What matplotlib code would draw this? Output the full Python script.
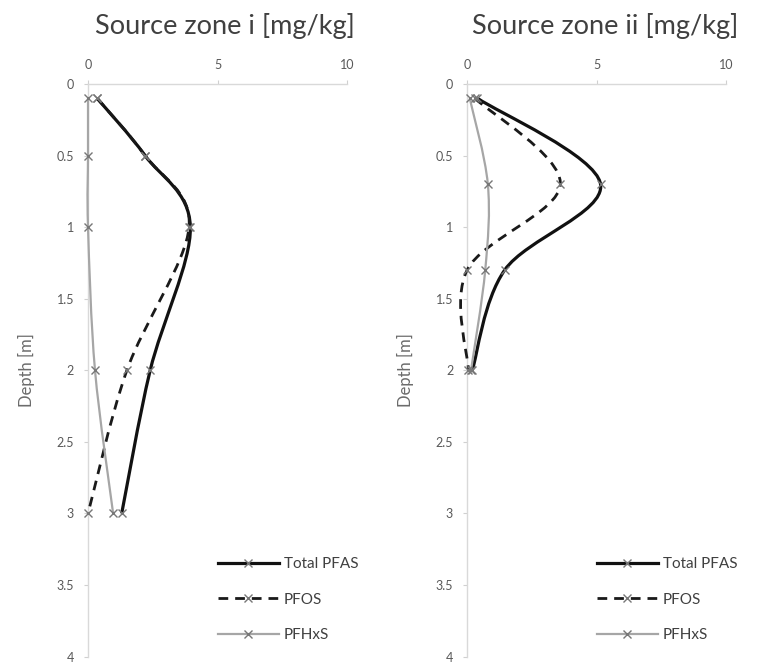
import numpy as np
import matplotlib as mpl
mpl.use('Agg')
import matplotlib.pyplot as plt
from matplotlib.path import Path
from matplotlib.patches import PathPatch
from matplotlib.lines import Line2D

plt.rcParams['font.family'] = ['Lato', 'DejaVu Sans']

#Data (concentration in mg/kg, depth in m)
depth_i = [0.1, 0.5, 1.0, 2.0, 3.0]
total_i = [0.35, 2.2, 3.95, 2.4, 1.3]
pfos_i = [0.35, 2.2, 3.9, 1.5, 0.0]
pfhxs_i = [0.0, 0.0, 0.0, 0.27, 0.97]

depth_ii = [0.1, 0.7, 1.3, 2.0]
total_ii = [0.4, 5.15, 1.45, 0.2]
pfos_ii = [0.3, 3.6, 0.0, 0.05]
pfhxs_ii = [0.1, 0.8, 0.7, 0.15]

titles = ["Source zone i [mg/kg]", "Source zone ii [mg/kg]"]
series_names = ["Total PFAS", "PFOS", "PFHxS"]
x_ticks = [0, 5, 10]
y_ticks = [0, 0.5, 1, 1.5, 2, 2.5, 3, 3.5, 4]
y_ticklabels = ["0", "0.5", "1", "1.5", "2", "2.5", "3", "3.5", "4"]

styles = [
    dict(color='#111111', lw=2.3, ls='-'),
    dict(color='#1a1a1a', lw=2.0, ls=(0, (3.5, 2.5))),
    dict(color='#a6a6a6', lw=1.6, ls='-'),
]


def smooth_path(x, y):
    #Excel-like smoothed line: Catmull-Rom segments as cubic Bezier curves
    pts = np.column_stack([x, y]).astype(float)
    ext = np.vstack([pts[0], pts, pts[-1]])
    verts = [pts[0]]
    codes = [Path.MOVETO]
    for i in range(1, len(ext) - 2):
        p0, p1, p2, p3 = ext[i - 1], ext[i], ext[i + 1], ext[i + 2]
        verts += [p1 + (p2 - p0) / 6., p2 - (p3 - p1) / 6., p2]
        codes += [Path.CURVE4] * 3
    return Path(verts, codes)


fig = plt.figure(figsize=(7.62, 6.66), dpi=100)
panels = [
    (0.1155, 0.295, depth_i, [total_i, pfos_i, pfhxs_i]),
    (0.6130, 0.794, depth_ii, [total_ii, pfos_ii, pfhxs_ii]),
]

for k, (left, title_x, depth, series) in enumerate(panels):
    ax = fig.add_axes([left, 0.014, 0.34, 0.860])
    for vals, st in zip(series, styles):
        patch = PathPatch(smooth_path(vals, depth), facecolor='none',
                          edgecolor=st['color'], lw=st['lw'], linestyle=st['ls'],
                          capstyle='butt', clip_on=False, zorder=3)
        ax.add_patch(patch)
        ax.plot(vals, depth, linestyle='none', marker='x', ms=6, mew=1.0,
                color='#777777', clip_on=False, zorder=4)
    ax.set_xlim(0, 10)
    ax.set_ylim(4, 0)
    ax.xaxis.tick_top()
    ax.set_xticks(x_ticks)
    ax.set_yticks(y_ticks)
    ax.set_yticklabels(y_ticklabels)
    ax.tick_params(colors='#d0d0d0', labelcolor='#595959', labelsize=9,
                   length=3, width=0.8)
    ax.tick_params(axis='y', pad=7)
    ax.tick_params(axis='x', pad=6)
    for side in ['bottom', 'right']:
        ax.spines[side].set_visible(False)
    for side in ['top', 'left']:
        ax.spines[side].set_color('#d9d9d9')
        ax.spines[side].set_linewidth(1.0)
    ax.set_ylabel("Depth [m]", fontsize=12, color='#6b6b6b')
    ax.yaxis.set_label_coords(-0.205, 0.50)

    handles = [Line2D([], [], color=st['color'], lw=st['lw'], ls=st['ls'],
                      marker='x', ms=6, mew=1.0, markeredgecolor='#777777')
               for st in styles]
    ax.legend(handles, series_names, loc='upper left',
              bbox_to_anchor=(0.447, 0.198), frameon=False, fontsize=11,
              handlelength=4.0, handletextpad=0.33, labelspacing=1.42,
              labelcolor='#404040')

    fig.text(title_x, 1 - 26 / 666, titles[k], ha='center', va='center',
             fontsize=19.5, color='#404040')

fig.savefig("out.png", dpi=100)
